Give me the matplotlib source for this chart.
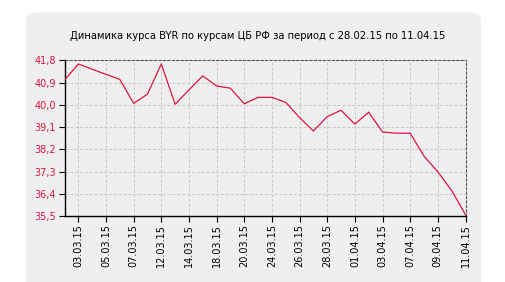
import matplotlib
matplotlib.use("Agg")
import matplotlib.pyplot as plt
from matplotlib.patches import FancyBboxPatch
from matplotlib.ticker import FuncFormatter

# BYR rate by CBR, one point per published date
dates = ["28.02.15", "03.03.15", "04.03.15", "05.03.15", "06.03.15", "07.03.15",
         "11.03.15", "12.03.15", "13.03.15", "14.03.15", "17.03.15", "18.03.15",
         "19.03.15", "20.03.15", "21.03.15", "24.03.15", "25.03.15", "26.03.15",
         "27.03.15", "28.03.15", "31.03.15", "01.04.15", "02.04.15", "03.04.15",
         "04.04.15", "07.04.15", "08.04.15", "09.04.15", "10.04.15", "11.04.15"]
rate = [41.00, 41.65, 41.44, 41.23, 41.03, 40.06, 40.43, 41.65, 40.02, 40.60,
        41.17, 40.76, 40.67, 40.04, 40.30, 40.30, 40.10, 39.48, 38.94, 39.52,
        39.78, 39.22, 39.70, 38.90, 38.85, 38.85, 37.92, 37.29, 36.53, 35.55]
y_ticks = [35.5, 36.4, 37.3, 38.2, 39.1, 40.0, 40.9, 41.8]
title = "Динамика курса BYR по курсам ЦБ РФ за период с 28.02.15 по 11.04.15"

RED = "#dc143c"
PANEL = "#efeff1"

fig = plt.figure(figsize=(5.05, 2.82), dpi=100)
fig.patch.set_facecolor("white")
panel = FancyBboxPatch((26 / 505, -0.05), (481 - 26) / 505, (282 - 12) / 282 + 0.05,
                       boxstyle="round,pad=0,rounding_size=0.03",
                       transform=fig.transFigure, facecolor=PANEL,
                       edgecolor="none", zorder=0)
fig.patches.append(panel)

ax = fig.add_axes([64.5 / 505, (282 - 216) / 282, 401 / 505, 155.7 / 282])
ax.set_zorder(2)
ax.set_facecolor(PANEL)

x = list(range(len(dates)))
ax.plot(x, rate, color=RED, linewidth=0.9, zorder=3)

ax.set_xlim(0, len(dates) - 1)
ax.set_ylim(y_ticks[0], y_ticks[-1])
ax.set_yticks(y_ticks)
ax.yaxis.set_major_formatter(FuncFormatter(lambda v, _: f"{v:.1f}".replace(".", ",")))
ax.set_xticks(x[1::2])
ax.set_xticklabels(dates[1::2], rotation=90, fontsize=7)
ax.tick_params(axis="y", labelsize=7, labelcolor=RED, length=4, width=0.8, pad=2)
ax.tick_params(axis="x", length=4, width=0.8, pad=2)

ax.grid(True, color="#c8c8c8", linestyle=(0, (3, 2)), linewidth=0.7)
for side in ("left", "bottom"):
    ax.spines[side].set_color("black")
    ax.spines[side].set_linewidth(1.0)
for side in ("top", "right"):
    ax.spines[side].set_color("#555555")
    ax.spines[side].set_linestyle((0, (2, 2)))
    ax.spines[side].set_linewidth(0.8)

fig.text(258 / 505, 1 - 36 / 282, title, ha="center", va="center", fontsize=7.2)

fig.savefig("out.png", dpi=100, facecolor=fig.get_facecolor())
